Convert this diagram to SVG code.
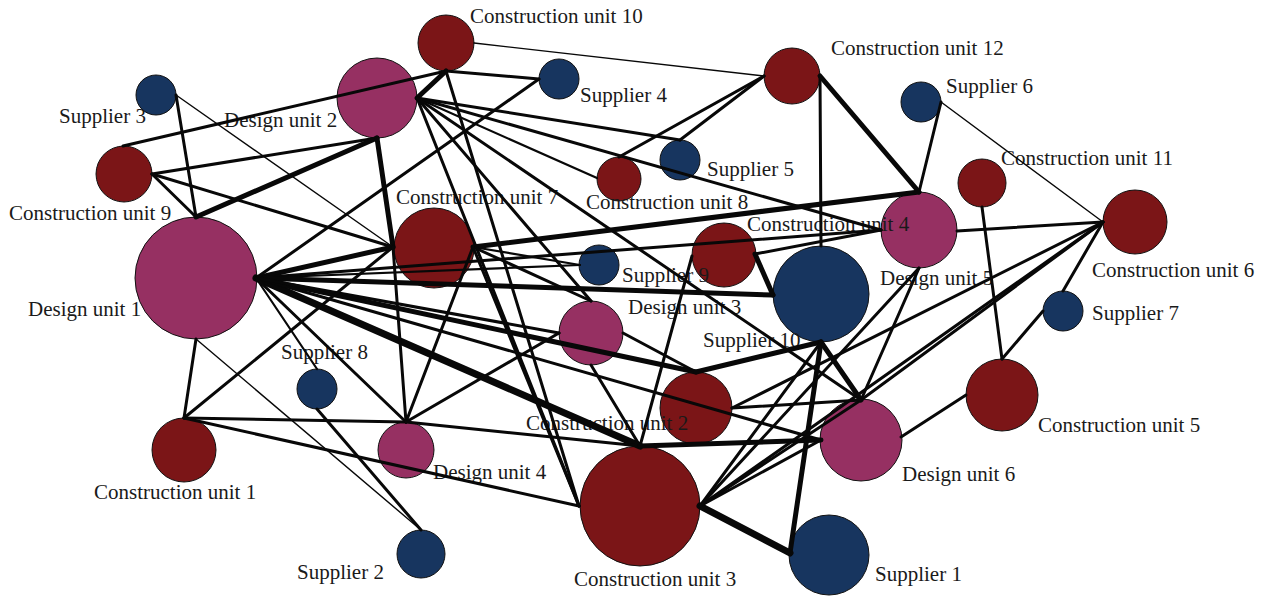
<svg xmlns="http://www.w3.org/2000/svg" width="1271" height="596" viewBox="0 0 1271 596">
  <style>
    .cu { fill: #7b1517; stroke: #111; stroke-width: 1; }
    .du { fill: #963062; stroke: #111; stroke-width: 1; }
    .su { fill: #17355f; stroke: #111; stroke-width: 1; }
    text { font-family: "Liberation Serif", "DejaVu Serif", serif; font-size: 21px; fill: #1a1a1a; }
    #connectors line { stroke: #080808; stroke-linecap: round; }
    .w1 { stroke-width: 1.4; }
    .w2 { stroke-width: 2.2; }
    .w3 { stroke-width: 3; }
    .w5 { stroke-width: 5; }
    .w7 { stroke-width: 7; }
  </style>
  <rect width="1271" height="596" fill="#ffffff"/>

  <g id="nodes">
    <g id="construction-unit-10"><circle class="cu" cx="446" cy="43" r="28"/><text x="470" y="23">Construction unit 10</text></g>
    <g id="supplier-4"><circle class="su" cx="559" cy="79" r="20"/><text x="580" y="102">Supplier 4</text></g>
    <g id="design-unit-2"><circle class="du" cx="377" cy="98" r="40"/><text x="224" y="127">Design unit 2</text></g>
    <g id="supplier-3"><circle class="su" cx="156" cy="95" r="20"/><text x="59" y="123">Supplier 3</text></g>
    <g id="construction-unit-9"><circle class="cu" cx="124" cy="174" r="28"/><text x="9" y="220">Construction unit 9</text></g>
    <g id="design-unit-1"><circle class="du" cx="196" cy="278" r="61"/><text x="28" y="316">Design unit 1</text></g>
    <g id="construction-unit-7"><circle class="cu" cx="434" cy="248" r="40"/><text x="396" y="204">Construction unit 7</text></g>
    <g id="construction-unit-12"><circle class="cu" cx="792" cy="76" r="28"/><text x="831" y="55">Construction unit 12</text></g>
    <g id="supplier-5"><circle class="su" cx="680" cy="160" r="20"/><text x="707" y="176">Supplier 5</text></g>
    <g id="construction-unit-8"><circle class="cu" cx="619" cy="179" r="22"/><text x="586" y="209">Construction unit 8</text></g>
    <g id="supplier-6"><circle class="su" cx="921" cy="102" r="20"/><text x="946" y="93">Supplier 6</text></g>
    <g id="construction-unit-11"><circle class="cu" cx="982" cy="183" r="24"/><text x="1001" y="165">Construction unit 11</text></g>
    <g id="design-unit-5"><circle class="du" cx="919" cy="230" r="38"/><text x="880" y="285">Design unit 5</text></g>
    <g id="construction-unit-4"><circle class="cu" cx="724" cy="255" r="32"/><text x="747" y="231">Construction unit 4</text></g>
    <g id="supplier-10"><circle class="su" cx="821" cy="294" r="48"/><text x="703" y="347">Supplier 10</text></g>
    <g id="supplier-9"><circle class="su" cx="599" cy="265" r="20"/><text x="622" y="282">Supplier 9</text></g>
    <g id="construction-unit-6"><circle class="cu" cx="1135" cy="222" r="32"/><text x="1092" y="277">Construction unit 6</text></g>
    <g id="supplier-7"><circle class="su" cx="1063" cy="311" r="20"/><text x="1092" y="320">Supplier 7</text></g>
    <g id="design-unit-3"><circle class="du" cx="591" cy="333" r="32"/><text x="628" y="314">Design unit 3</text></g>
    <g id="construction-unit-2"><circle class="cu" cx="696" cy="408" r="36"/><text x="526" y="430">Construction unit 2</text></g>
    <g id="construction-unit-5"><circle class="cu" cx="1002" cy="395" r="36"/><text x="1038" y="432">Construction unit 5</text></g>
    <g id="design-unit-6"><circle class="du" cx="861" cy="440" r="41"/><text x="902" y="481">Design unit 6</text></g>
    <g id="supplier-1"><circle class="su" cx="829" cy="555" r="40"/><text x="875" y="581">Supplier 1</text></g>
    <g id="construction-unit-3"><circle class="cu" cx="640" cy="506" r="60"/><text x="574" y="586">Construction unit 3</text></g>
    <g id="design-unit-4"><circle class="du" cx="406" cy="450" r="28"/><text x="433" y="479">Design unit 4</text></g>
    <g id="supplier-8"><circle class="su" cx="317" cy="389" r="20"/><text x="281" y="359">Supplier 8</text></g>
    <g id="construction-unit-1"><circle class="cu" cx="184" cy="450" r="32"/><text x="94" y="499">Construction unit 1</text></g>
    <g id="supplier-2"><circle class="su" cx="421" cy="554" r="24"/><text x="297" y="579">Supplier 2</text></g>
  </g>

  <g id="connectors">
    <line class="w3" x1="123" y1="146" x2="446" y2="71"/>
    <line class="w3" x1="152" y1="174" x2="377" y2="138"/>
    <line class="w3" x1="152" y1="174" x2="196" y2="217"/>
    <line class="w3" x1="152" y1="174" x2="393" y2="247"/>
    <line class="w3" x1="176" y1="95" x2="196" y2="217"/>
    <line class="w1" x1="176" y1="95" x2="393" y2="247"/>
    <line class="w5" x1="377" y1="138" x2="196" y2="217"/>
    <line class="w5" x1="377" y1="138" x2="393" y2="247"/>
    <line class="w3" x1="256" y1="278" x2="539" y2="79"/>
    <line class="w5" x1="256" y1="278" x2="393" y2="247"/>
    <line class="w3" x1="256" y1="278" x2="881" y2="230"/>
    <line class="w2" x1="256" y1="278" x2="580" y2="265"/>
    <line class="w5" x1="256" y1="278" x2="773" y2="295"/>
    <line class="w5" x1="256" y1="278" x2="696" y2="372"/>
    <line class="w7" x1="256" y1="278" x2="640" y2="446"/>
    <line class="w3" x1="256" y1="278" x2="821" y2="440"/>
    <line class="w3" x1="256" y1="278" x2="559" y2="333"/>
    <line class="w3" x1="256" y1="278" x2="406" y2="422"/>
    <line class="w2" x1="256" y1="278" x2="317" y2="369"/>
    <line class="w3" x1="196" y1="339" x2="184" y2="418"/>
    <line class="w1" x1="196" y1="339" x2="421" y2="530"/>
    <line class="w3" x1="317" y1="409" x2="421" y2="530"/>
    <line class="w3" x1="184" y1="418" x2="393" y2="247"/>
    <line class="w3" x1="184" y1="418" x2="406" y2="422"/>
    <line class="w3" x1="184" y1="418" x2="579" y2="506"/>
    <line class="w3" x1="406" y1="422" x2="393" y2="247"/>
    <line class="w3" x1="406" y1="422" x2="473" y2="247"/>
    <line class="w3" x1="406" y1="422" x2="559" y2="333"/>
    <line class="w3" x1="406" y1="422" x2="640" y2="446"/>
    <line class="w5" x1="446" y1="71" x2="417" y2="98"/>
    <line class="w3" x1="446" y1="71" x2="539" y2="79"/>
    <line class="w3" x1="446" y1="71" x2="579" y2="506"/>
    <line class="w1" x1="474" y1="43" x2="764" y2="76"/>
    <line class="w3" x1="417" y1="98" x2="680" y2="140"/>
    <line class="w2" x1="417" y1="98" x2="597" y2="178"/>
    <line class="w3" x1="417" y1="98" x2="881" y2="230"/>
    <line class="w3" x1="417" y1="98" x2="591" y2="301"/>
    <line class="w3" x1="417" y1="98" x2="579" y2="506"/>
    <line class="w3" x1="417" y1="98" x2="861" y2="400"/>
    <line class="w3" x1="619" y1="157" x2="764" y2="76"/>
    <line class="w3" x1="680" y1="140" x2="764" y2="76"/>
    <line class="w3" x1="820" y1="76" x2="821" y2="246"/>
    <line class="w5" x1="820" y1="76" x2="919" y2="192"/>
    <line class="w3" x1="941" y1="102" x2="919" y2="192"/>
    <line class="w1" x1="941" y1="102" x2="1103" y2="222"/>
    <line class="w5" x1="473" y1="247" x2="919" y2="192"/>
    <line class="w2" x1="473" y1="247" x2="580" y2="265"/>
    <line class="w3" x1="473" y1="247" x2="591" y2="301"/>
    <line class="w3" x1="473" y1="247" x2="579" y2="506"/>
    <line class="w3" x1="623" y1="333" x2="696" y2="372"/>
    <line class="w3" x1="591" y1="365" x2="640" y2="446"/>
    <line class="w3" x1="692" y1="256" x2="640" y2="446"/>
    <line class="w3" x1="755" y1="254" x2="881" y2="230"/>
    <line class="w5" x1="755" y1="254" x2="773" y2="295"/>
    <line class="w5" x1="821" y1="342" x2="696" y2="372"/>
    <line class="w5" x1="821" y1="342" x2="790" y2="553"/>
    <line class="w5" x1="821" y1="342" x2="861" y2="400"/>
    <line class="w3" x1="821" y1="342" x2="700" y2="506"/>
    <line class="w5" x1="640" y1="446" x2="821" y2="440"/>
    <line class="w7" x1="700" y1="506" x2="790" y2="553"/>
    <line class="w3" x1="700" y1="506" x2="861" y2="400"/>
    <line class="w3" x1="700" y1="506" x2="821" y2="440"/>
    <line class="w3" x1="700" y1="506" x2="1103" y2="222"/>
    <line class="w3" x1="700" y1="506" x2="919" y2="268"/>
    <line class="w3" x1="919" y1="268" x2="861" y2="400"/>
    <line class="w3" x1="957" y1="231" x2="1103" y2="222"/>
    <line class="w3" x1="1103" y1="222" x2="1063" y2="291"/>
    <line class="w3" x1="861" y1="400" x2="1103" y2="222"/>
    <line class="w3" x1="732" y1="408" x2="1103" y2="222"/>
    <line class="w3" x1="732" y1="408" x2="861" y2="400"/>
    <line class="w3" x1="901" y1="437" x2="966" y2="395"/>
    <line class="w3" x1="982" y1="207" x2="1002" y2="359"/>
    <line class="w3" x1="1043" y1="311" x2="1002" y2="359"/>
  </g>
</svg>
